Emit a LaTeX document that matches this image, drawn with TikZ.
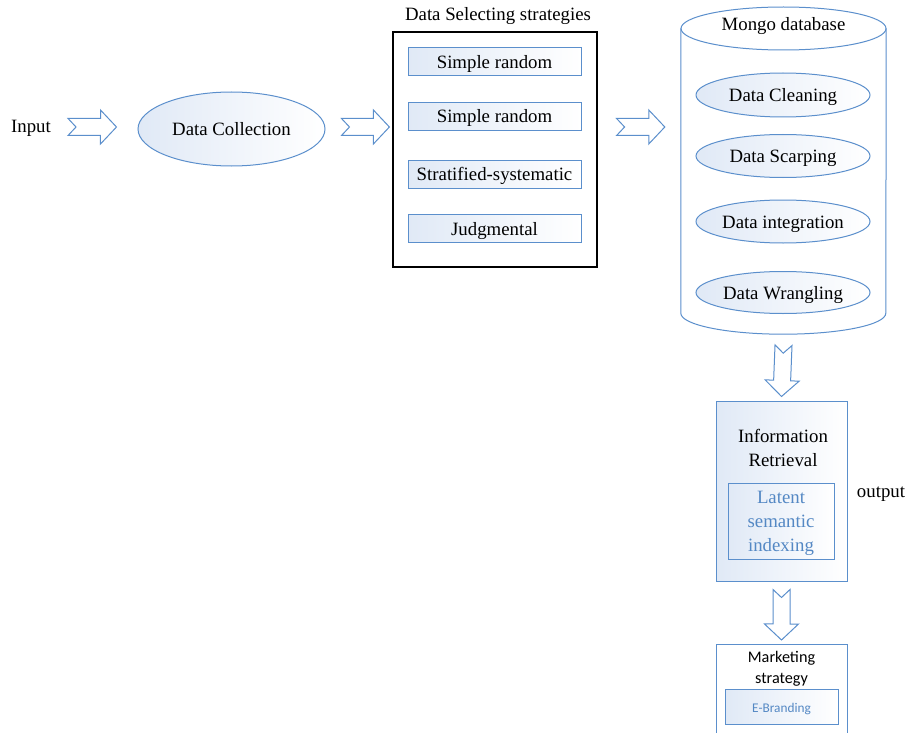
\documentclass[tikz,border=0pt]{standalone}
\usepackage{fontspec}
\setmainfont{Liberation Serif}
\newfontfamily\calibri{Carlito}
\usetikzlibrary{positioning,calc,shapes.geometric}
\definecolor{lineblue}{RGB}{91,143,204}
\definecolor{paleblue}{RGB}{224,233,246}
\definecolor{textblue}{RGB}{84,136,196}
\tikzset{
  oval/.style={ellipse, draw=lineblue, line width=1pt, left color=paleblue, right color=white, inner sep=0pt},
  lowtext/.style={text height=17pt, text depth=4pt},
  stratbox/.style={draw=lineblue, line width=1pt, left color=paleblue, right color=white, minimum width=173, minimum height=28, inner sep=0pt, lowtext},
  panel/.style={draw=lineblue, line width=1pt, inner sep=0pt},
  plain/.style={inner sep=0pt, align=center},
  fatarrow/.style={draw=lineblue, line width=1pt, fill=white, line join=miter,
    to path={let \p1=(\tikztostart), \p2=(\tikztotarget),
      \n1={atan2(\y2-\y1,\x2-\x1)}, \n2={veclen(\x2-\x1,\y2-\y1)} in
      (\p1) ++({\n1+90}:8.5pt) -- ++(\n1:{\n2-16pt}) -- ++({\n1+90}:8.5pt) -- (\p2)
      -- ++({\n1+226.7}:23.35pt) -- ++({\n1+90}:8.5pt) -- ++({\n1+180}:{\n2-16pt})
      -- ++({\n1+46.7}:11.67pt) -- cycle}}
}
\begin{document}
\begin{tikzpicture}[x=1pt, y=-1pt, font=\fontsize{18.8}{24}\selectfont]
        \useasboundingbox (0,0) rectangle (907,733);
        %%%%%%%%%% Nodes %%%%%%%%%%
        \node[plain] (input) at (31,128) {Input};
        \node[oval, minimum width=187, minimum height=74] (coll) at (231.5,129) {Data Collection};

        \node[plain] (seltitle) at (498,16) {Data Selecting strategies};
        \node[draw=black, line width=1.2pt, minimum width=204, minimum height=235, inner sep=0pt] (sel) at (495,149.5) {};
        \node[stratbox] (s1) at (494.5,62) {Simple random};
        \node[stratbox] (s2) at (494.5,116.5) {Simple random};
        \node[stratbox] (s3) at (494.5,174) {Stratified-systematic};
        \node[stratbox] (s4) at (494.5,228.5) {Judgmental};

        % database cylinder
        \node[minimum width=205, minimum height=327, inner sep=0pt] (db) at (783.5,170.5) {};
        \draw[draw=lineblue, line width=1pt, fill=white]
          ([yshift=-21.5pt]db.north west) -- ([yshift=21pt]db.south west)
          arc[start angle=180, end angle=360, x radius=102.5pt, y radius=21pt]
          -- ([yshift=-21.5pt]db.north east);
        \draw[draw=lineblue, line width=1pt] (783.5,28.5) ellipse [x radius=102.5pt, y radius=21.5pt];
        \node[plain] (mongo) at (783.5,26) {Mongo database};
        \node[oval, lowtext, minimum width=174, minimum height=44] (clean) at (783,95) {Data Cleaning};
        \node[oval, lowtext, minimum width=174, minimum height=43] (scarp) at (783,156) {Data Scarping};
        \node[oval, lowtext, minimum width=174, minimum height=43] (integ) at (783,221.5) {Data integration};
        \node[oval, lowtext, minimum width=174, minimum height=42] (wrang) at (783,292.5) {Data Wrangling};

        % output side
        \node[panel, left color=paleblue, right color=white, minimum width=131, minimum height=180] (ir) at (781.5,491) {};
        \node[plain] (irtext) at (783,448) {Information\\Retrieval};
        \node[panel, left color=paleblue, right color=white, minimum width=106, minimum height=76] (lsi) at (781,521) {};
        \node[plain, text=textblue] (lsitext) at (781,523.5) {Latent\\semantic\\indexing};
        \node[plain] (output) at (881,494) {output};

        \node[panel, fill=white, minimum width=131, minimum height=110, anchor=north] (mkt) at (781.5,644) {};
        \node[plain, font=\calibri\fontsize{16.2}{21}\selectfont] (mkttext) at (781.5,668.5) {Marketing\\strategy};
        \node[panel, left color=paleblue, right color=white, minimum width=113, minimum height=35] (ebrand) at (781.5,706.5) {};
        \node[plain, text=textblue, font=\calibri\fontsize{13.3}{16}\selectfont] (ebtext) at (781.5,709) {E-Branding};

        %%%%%%%%% Arrows %%%%%%%%%%
        \draw[fatarrow] ([xshift=17pt]input.east |- 0,127) to ([xshift=-21pt]coll.west |- 0,127);
        \draw[fatarrow] ([xshift=16pt]coll.east |- 0,127) to ([xshift=-3pt]sel.west |- 0,127);
        \draw[fatarrow] ([xshift=19pt]sel.east |- 0,127) to ([xshift=-16pt]db.west |- 0,127);
        \draw[fatarrow] ([yshift=-11pt]db.south) to ([yshift=4pt]ir.north);
        \draw[fatarrow] ([yshift=-8pt]ir.south) to ([yshift=4pt]mkt.north);
\end{tikzpicture}
\end{document}
